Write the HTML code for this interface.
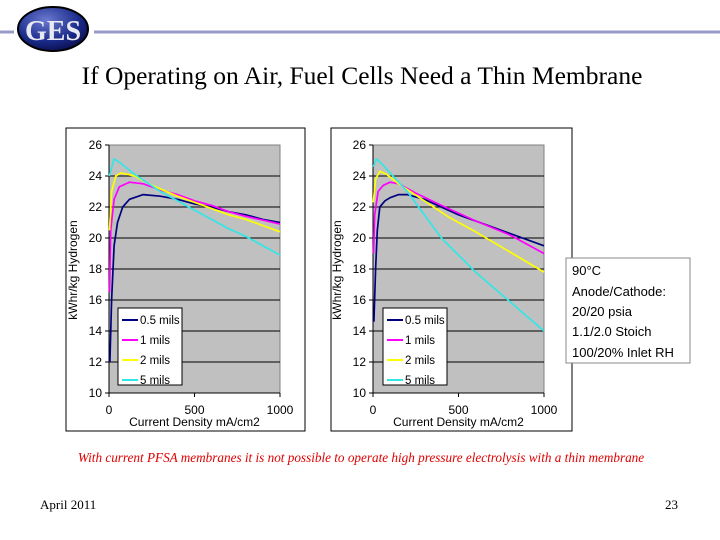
<!DOCTYPE html>
<html><head><meta charset="utf-8"><style>
html,body{margin:0;padding:0;background:#fff;}
body{width:720px;height:540px;overflow:hidden;position:relative;}
</style></head><body>
<svg id="s" width="720" height="540" xmlns="http://www.w3.org/2000/svg" style="position:absolute;left:0;top:0">
<defs>
<radialGradient id="lg" cx="0.4" cy="0.3" r="0.8">
<stop offset="0" stop-color="#6a7ad0"/><stop offset="0.6" stop-color="#1a2a8a"/><stop offset="1" stop-color="#05083a"/>
</radialGradient>
</defs>
<line x1="0" y1="32" x2="14" y2="32" stroke="#9a9ac8" stroke-width="3"/>
<line x1="94" y1="32" x2="720" y2="32" stroke="#9a9ac8" stroke-width="3"/>
<ellipse cx="53" cy="29" rx="35" ry="22" fill="url(#lg)" stroke="#000" stroke-width="2"/>
<text x="53" y="40" text-anchor="middle" font-family="Liberation Serif, serif" font-size="28" font-weight="bold" fill="#e8e8f0">GES</text>
<text x="362" y="84" text-anchor="middle" font-family="Liberation Serif, serif" font-size="25.5" fill="#000">If Operating on Air, Fuel Cells Need a Thin Membrane</text>
<text x="361" y="462" text-anchor="middle" font-family="Liberation Serif, serif" font-size="13.2" font-style="italic" fill="#e00000">With current PFSA membranes it is not possible to operate high pressure electrolysis with a thin membrane</text>
<text x="40" y="509" font-family="Liberation Serif, serif" font-size="13" fill="#000">April 2011</text>
<text x="665" y="509" font-family="Liberation Serif, serif" font-size="13" fill="#000">23</text>
<g id="charts"></g>
<rect x="566" y="258" width="124" height="105" fill="#fff" stroke="#888" stroke-width="1"/>
<g font-family="Liberation Sans, sans-serif" font-size="13" fill="#000">
<text x="572" y="275">90°C</text>
<text x="572" y="296">Anode/Cathode:</text>
<text x="572" y="316">20/20 psia</text>
<text x="572" y="336">1.1/2.0 Stoich</text>
<text x="572" y="357">100/20% Inlet RH</text>
</g>
</svg>
<script>
var NS="http://www.w3.org/2000/svg";
var g=document.getElementById("charts");
function el(t,a,txt){var e=document.createElementNS(NS,t);for(var k in a)e.setAttribute(k,a[k]);if(txt!=null)e.textContent=txt;g.appendChild(e);return e;}
var cols=["#000080","#ff00ff","#ffff00","#33e6e6"];
var names=["0.5 mils","1 mils","2 mils","5 mils"];
var F="Liberation Sans, sans-serif";
function chart(bx,bw,px,lx,data){
 el("rect",{x:bx,y:128,width:bw,height:303,fill:"#fff",stroke:"#000","stroke-width":1});
 var W=171,y0=393;
 function X(v){return px+v/1000*W;} function Y(v){return y0-(v-10)*15.5;}
 el("rect",{x:px,y:145,width:W,height:248,fill:"#c0c0c0",stroke:"#808080"});
 for(var v=10;v<=26;v+=2){
  if(v>10&&v<26)el("line",{x1:px,x2:px+W,y1:Y(v),y2:Y(v),stroke:"#000","stroke-width":1});
  el("line",{x1:px-4,x2:px,y1:Y(v),y2:Y(v),stroke:"#000"});
  el("text",{x:px-7,y:Y(v)+4,"text-anchor":"end","font-family":F,"font-size":"12"},String(v));
 }
 el("line",{x1:px,x2:px,y1:145,y2:393,stroke:"#000"});
 el("line",{x1:px,x2:px+W,y1:393,y2:393,stroke:"#000"});
 [0,500,1000].forEach(function(v){
  el("line",{x1:X(v),x2:X(v),y1:393,y2:397,stroke:"#000"});
  el("text",{x:X(v),y:414,"text-anchor":"middle","font-family":F,"font-size":"12"},String(v));
 });
 el("text",{x:px+W/2,y:426,"text-anchor":"middle","font-family":F,"font-size":"12"},"Current Density  mA/cm2");
 el("text",{x:0,y:0,transform:"translate("+(px-32)+",270) rotate(-90)","text-anchor":"middle","font-family":F,"font-size":"12"},"kWhr/kg Hydrogen");
 data.forEach(function(d,i){
  var s="";d.forEach(function(p,j){s+=(j?"L":"M")+X(p[0]).toFixed(1)+","+Y(p[1]).toFixed(1);});
  el("path",{d:s,fill:"none",stroke:cols[i],"stroke-width":1.7,"stroke-linejoin":"round"});
 });
 el("rect",{x:lx,y:308,width:64,height:77,fill:"#fff",stroke:"#000"});
 for(var i=0;i<4;i++){var yy=320+i*20;
  el("line",{x1:lx+4,x2:lx+20,y1:yy,y2:yy,stroke:cols[i],"stroke-width":2});
  el("text",{x:lx+22,y:yy+4,"font-family":F,"font-size":"11.5"},names[i]);}
}
var L=[
[[5,12],[15,16],[30,19.5],[50,21],[80,22],[120,22.5],[200,22.8],[300,22.7],[400,22.5],[500,22.2],[600,22],[700,21.7],[800,21.5],[900,21.2],[1000,21]],
[[3,16.5],[10,20.5],[30,22.5],[60,23.3],[120,23.6],[200,23.5],[300,23.1],[400,22.8],[500,22.4],[600,22.1],[700,21.7],[800,21.4],[1000,20.9]],
[[3,20.5],[15,23],[40,24],[70,24.2],[150,24],[250,23.4],[400,22.7],[500,22.3],[600,21.9],[700,21.5],[800,21.2],[1000,20.4]],
[[2,24],[30,25.1],[60,24.9],[150,24.1],[300,23.0],[400,22.4],[500,21.8],[600,21.2],[700,20.6],[800,20.1],[1000,18.9]]];
var R=[
[[5,14.6],[15,18],[25,20.5],[40,22],[70,22.4],[100,22.6],[150,22.8],[200,22.8],[300,22.5],[500,21.5],[700,20.7],[1000,19.5]],
[[3,19],[10,21.5],[30,23],[60,23.4],[100,23.6],[150,23.5],[250,22.9],[400,22.1],[600,21.1],[800,20.2],[1000,19]],
[[2,22.3],[15,23.8],[40,24.3],[80,24.1],[150,23.5],[300,22.4],[450,21.3],[600,20.4],[800,19.1],[1000,17.8]],
[[2,24.6],[20,25.1],[50,24.8],[100,24.2],[200,23],[400,20],[600,17.8],[800,15.9],[1000,14]]];
chart(66,239,109,118,L);
chart(331,241,373,383,R);
</script>
</body></html>
